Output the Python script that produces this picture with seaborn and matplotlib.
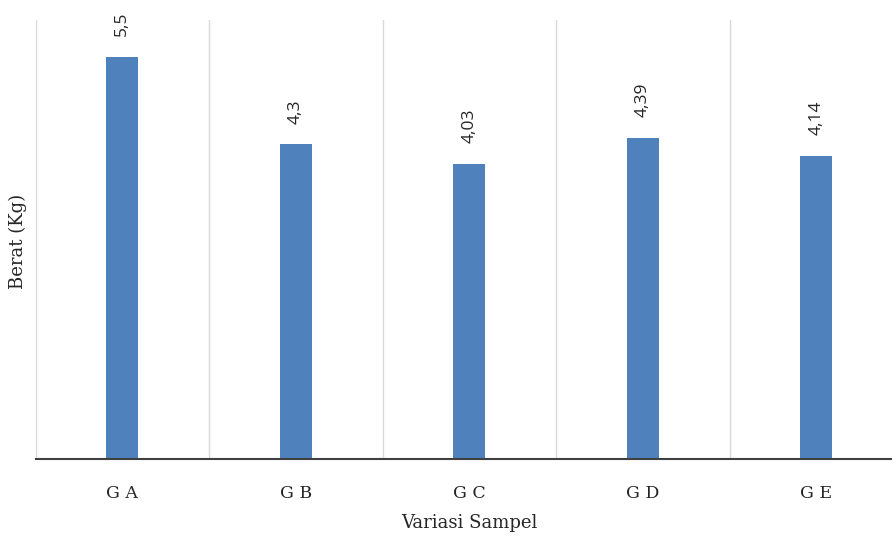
import matplotlib
matplotlib.use("Agg")
import matplotlib.pyplot as plt
import seaborn as sns
import pandas as pd

categories = ["G A", "G B", "G C", "G D", "G E"]
values = [5.5, 4.3, 4.03, 4.39, 4.14]
value_labels = ["5,5", "4,3", "4,03", "4,39", "4,14"]

sns.set_theme(style="white")

fig = plt.figure(figsize=(8.92, 5.38), dpi=100)
W, H = 892, 538
ax = fig.add_axes([35.5 / W, (H - 459) / H, (903 - 35.5) / W, (459 - 20) / H])

df = pd.DataFrame({"Variasi Sampel": categories, "Berat": values})
sns.barplot(data=df, x="Variasi Sampel", y="Berat", color="#4F81BD",
            saturation=1, width=0.185, linewidth=0, ax=ax)

ax.set_xlim(-0.5, len(categories) - 0.5)
ax.set_ylim(0, 6)
ax.set_yticks([])

# category separators
ax.set_xticks([i - 0.5 for i in range(len(categories) + 1)], minor=True)
ax.grid(which="minor", axis="x", color="#D9D9D9", linewidth=1)
ax.grid(which="major", visible=False)
ax.tick_params(axis="x", which="both", length=0)
ax.set_axisbelow(True)

for side in ["left", "right", "top"]:
    ax.spines[side].set_visible(False)
ax.spines["bottom"].set_color("#404040")
ax.spines["bottom"].set_linewidth(1.5)

ax.set_xticklabels(categories, fontfamily="DejaVu Serif", fontsize=12.5,
                   color="#262626")
ax.tick_params(axis="x", pad=18.5)

ax.bar_label(ax.containers[0], labels=value_labels, rotation=90, padding=15,
             fontsize=12.5, color="#262626", fontfamily="Open Sans")

ax.set_xlabel("Variasi Sampel", fontfamily="DejaVu Serif", fontsize=13,
              color="#262626", labelpad=9)
fig.text(18 / W, (H - 241) / H, "Berat (Kg)", rotation=90, ha="center",
         va="center", fontfamily="DejaVu Serif", fontsize=13, color="#262626")
ax.set_ylabel("")

fig.savefig("out.png", dpi=100)
